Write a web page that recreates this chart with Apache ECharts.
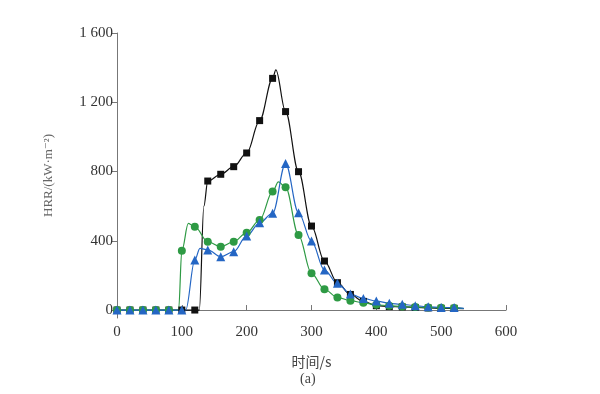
<!DOCTYPE html>
<html><head><meta charset="utf-8">
<script src="https://cdn.jsdelivr.net/npm/echarts@6/dist/echarts.min.js"></script>
<style>html,body{margin:0;padding:0;background:#fff}#c{width:600px;height:394px}</style>
</head><body><div id="c"></div>
<script>
// Marker times (s)
const times = [0,20,40,60,80,100,120,140,160,180,200,220,240,260,280,300,320,340,360,380,400,420,440,460,480,500,520];
// HRR values at marker times (kW/m^2)
const blackVals = [0,0,0,0,0,0,0,745,784,828,907,1094,1338,1146,799,485,283,158,90,50,25,20,18,15,12,10,10];
const blueVals  = [0,0,0,0,0,0,289,347,308,337,428,504,559,847,562,398,231,154,92,67,52,39,33,25,19,15,14];
const greenVals = [0,0,0,0,0,343,481,395,366,395,447,520,684,709,433,212,120,73,54,42,30,25,20,17,15,13,12];
// Extra curve points (no markers)
const blackExtra = [[127,0],[134,600],[245,1387],[535,8]];
const blueExtra  = [[106,0],[128,356],[535,10]];
const greenExtra = [[95,0],[110,500],[249,740],[535,9]];
// Tick labels
const xTicks = [0,100,200,300,400,500,600];
const yTicks = [0,400,800,1200,1600];

function build(vals, extra){
  const pts = times.map((t,i)=>({value:[t,vals[i]]}));
  extra.forEach(p=>pts.push({value:p, symbol:'none'}));
  pts.sort((a,b)=>a.value[0]-b.value[0]);
  return pts;
}
const serif = '"Liberation Serif","DejaVu Serif",serif';
const chart = echarts.init(document.getElementById('c'));
function series(name, vals, extra, color, symbol, size){
  return {name, type:'line', data:build(vals, extra), smooth:0.35, smoothMonotone:'x',
    symbol, symbolSize:size, showAllSymbol:true,
    lineStyle:{color, width:1.2}, itemStyle:{color}};
}
chart.setOption({
  animation:false,
  grid:{left:117, right:94, top:33, bottom:76},
  xAxis:{type:'value', min:0, max:600, interval:100,
    name:'时间/s', nameLocation:'middle', nameGap:37,
    nameTextStyle:{fontFamily:'"Noto Sans CJK SC",'+serif, fontSize:14, color:'#444'},
    axisLine:{lineStyle:{color:'#777', width:1}},
    axisTick:{inside:true, length:5, lineStyle:{color:'#777'}},
    axisLabel:{fontFamily:serif, fontSize:15, color:'#333', margin:7},
    splitLine:{show:false}},
  yAxis:{type:'value', min:-46, max:1600,
    name:'HRR/(kW·m⁻²)', nameLocation:'middle', nameGap:62,
    nameTextStyle:{fontFamily:serif, fontSize:13, color:'#666'},
    axisLine:{show:true, lineStyle:{color:'#777', width:1}},
    axisTick:{show:true, length:5, customValues:yTicks, lineStyle:{color:'#777'}},
    axisLabel:{customValues:yTicks, fontFamily:serif, fontSize:15, color:'#333', margin:4,
      formatter:v=>v>=1000?String(Math.floor(v/1000))+' '+String(v%1000).padStart(3,'0'):String(v)},
    splitLine:{show:false}},
  series:[
    series('black', blackVals, blackExtra, '#111111', 'rect', 7),
    series('green', greenVals, greenExtra, '#2e9a44', 'circle', 8),
    series('blue', blueVals, blueExtra, '#2466c4', 'triangle', 9)
  ],
  graphic:[{type:'text', left:300, top:372, style:{text:'(a)', font:'14px '+serif, fill:'#444'}}]
});
</script></body></html>
